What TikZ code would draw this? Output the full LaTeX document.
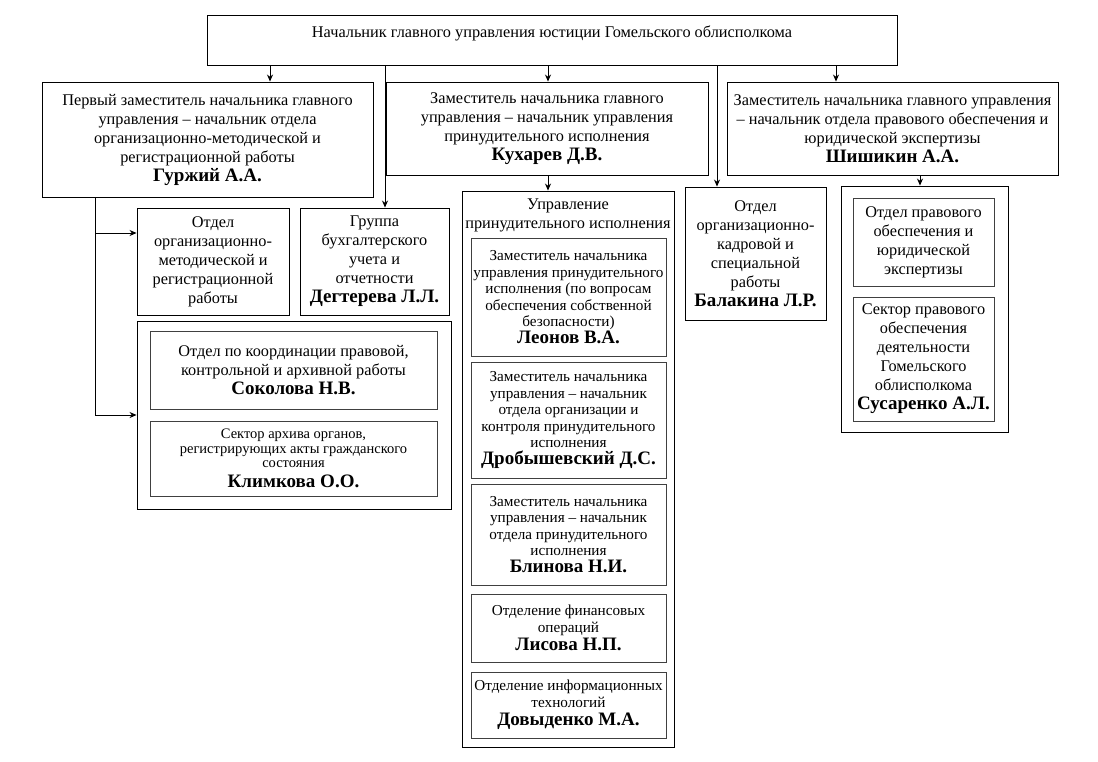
\documentclass[tikz,border=0pt]{standalone}
\usepackage{fontspec}
\setmainfont{Liberation Serif}
\usetikzlibrary{arrows.meta}
\tikzset{
    unit-box/.style = {draw=black, line width=0.9pt, rectangle, align=center, inner sep=2pt, font=\fontsize{16.3}{19}\selectfont},
    sub-box/.style = {draw=black!75, line width=0.9pt, rectangle, align=center, inner sep=2pt, font=\fontsize{15.2}{16.5}\selectfont},
    group-box/.style = {draw=black, line width=0.9pt, rectangle, inner sep=0pt},
    link/.style = {line width=0.8pt, -{Stealth[length=7pt,width=6pt]}},
    plain-line/.style = {line width=0.8pt},
}
\newcommand{\chief}[1]{{\fontsize{19}{22}\selectfont\bfseries #1}}

\begin{document}
\begin{tikzpicture}[x=1pt, y=-1pt]
\useasboundingbox (0,0) rectangle (1098,761);

% head
\node[unit-box, minimum width=690, minimum height=50, text depth=17pt] (head) at (552,40)
    {Начальник главного управления юстиции Гомельского облисполкома};

% deputies
\node[unit-box, minimum width=331, minimum height=115] (gurz) at (207.5,139.5)
    {Первый заместитель начальника главного\\ управления – начальник отдела\\ организационно-методической и\\ регистрационной работы\\ \chief{Гуржий А.А.}};
\node[unit-box, minimum width=322, minimum height=93] (kux) at (547,128.5)
    {Заместитель начальника главного\\ управления – начальник управления\\ принудительного исполнения\\ \chief{Кухарев Д.В.}};
\node[unit-box, minimum width=331, minimum height=93] (shish) at (892.5,128.5)
    {Заместитель начальника главного управления\\ – начальник отдела правового обеспечения и\\ юридической экспертизы\\ \chief{Шишикин А.А.}};

% left branch
\node[unit-box, minimum width=152, minimum height=107] (orgmet) at (213,261.5)
    {Отдел\\ организационно-\\ методической и\\ регистрационной\\ работы};
\node[unit-box, minimum width=149, minimum height=107] (buh) at (374.5,261.5)
    {Группа\\ бухгалтерского\\ учета и\\ отчетности\\ \chief{Дегтерева Л.Л.}};
\node[group-box, minimum width=314, minimum height=188] (archgroup) at (294,415) {};
\node[unit-box, draw=black!75, minimum width=287, minimum height=78] (sokol) at (293.5,370)
    {Отдел по координации правовой,\\ контрольной и архивной работы\\ \chief{Соколова Н.В.}};
\node[sub-box, font=\fontsize{14.5}{14.5}\selectfont, minimum width=287, minimum height=75] (klim) at (293.5,458.5)
    {Сектор архива органов,\\ регистрирующих акты гражданского\\ состояния\\[5pt] \chief{Климкова О.О.}};

% enforcement department
\node[group-box, minimum width=212, minimum height=556] (enforce) at (568,469) {};
\node[unit-box, draw=none, inner sep=0pt] (enforce-title) at (568,215)
    {Управление\\ принудительного исполнения};
\node[sub-box, minimum width=195, minimum height=118] (leon) at (568.5,297)
    {Заместитель начальника\\ управления принудительного\\ исполнения (по вопросам\\ обеспечения собственной\\ безопасности)\\ \chief{Леонов В.А.}};
\node[sub-box, minimum width=195, minimum height=116] (drob) at (568.5,420)
    {Заместитель начальника\\ управления – начальник\\ отдела организации и\\ контроля принудительного\\ исполнения\\ \chief{Дробышевский Д.С.}};
\node[sub-box, minimum width=195, minimum height=101] (blin) at (568.5,534.5)
    {Заместитель начальника\\ управления – начальник\\ отдела принудительного\\ исполнения\\ \chief{Блинова Н.И.}};
\node[sub-box, minimum width=195, minimum height=68] (lis) at (568.5,628)
    {Отделение финансовых\\ операций\\[2pt] \chief{Лисова Н.П.}};
\node[sub-box, minimum width=195, minimum height=66] (dov) at (568.5,705)
    {Отделение информационных\\ технологий\\[2pt] \chief{Довыденко М.А.}};

% personnel
\node[unit-box, minimum width=141, minimum height=133] (bal) at (755.5,253.5)
    {Отдел\\ организационно-\\ кадровой и\\ специальной\\ работы\\ \chief{Балакина Л.Р.}};

% legal branch
\node[group-box, minimum width=167, minimum height=246] (legal) at (924.5,309) {};
\node[unit-box, draw=black!75, minimum width=141, minimum height=88] (pravo) at (923.5,242)
    {Отдел правового\\ обеспечения и\\ юридической\\ экспертизы};
\node[unit-box, draw=black!75, minimum width=141, minimum height=124] (sus) at (923.5,359)
    {Сектор правового\\ обеспечения\\ деятельности\\ Гомельского\\ облисполкома\\ \chief{Сусаренко А.Л.}};

% connectors
\coordinate (x-gurz) at (270,0);
\coordinate (x-buh) at (385,0);
\coordinate (x-kux) at (548,0);
\coordinate (x-bal) at (717,0);
\coordinate (x-shish) at (836,0);
\coordinate (x-legal) at (920,0);
\coordinate (x-left) at (95,0);
\coordinate (y-orgmet) at (0,233);

\draw[link] (head.south -| x-gurz) -- (gurz.north -| x-gurz);
\draw[link] (head.south -| x-buh) -- (buh.north -| x-buh);
\draw[link] (head.south -| x-kux) -- (kux.north -| x-kux);
\draw[link] (head.south -| x-bal) -- (bal.north -| x-bal);
\draw[link] (head.south -| x-shish) -- (shish.north -| x-shish);
\draw[link] (kux.south -| x-kux) -- (enforce.north -| x-kux);
\draw[link] (shish.south -| x-legal) -- (legal.north -| x-legal);
\draw[plain-line] (gurz.south -| x-left) -- (archgroup.west -| x-left);
\draw[link] (x-left |- y-orgmet) -- (orgmet.west |- y-orgmet);
\draw[link] (archgroup.west -| x-left) -- (archgroup.west);
\end{tikzpicture}
\end{document}
